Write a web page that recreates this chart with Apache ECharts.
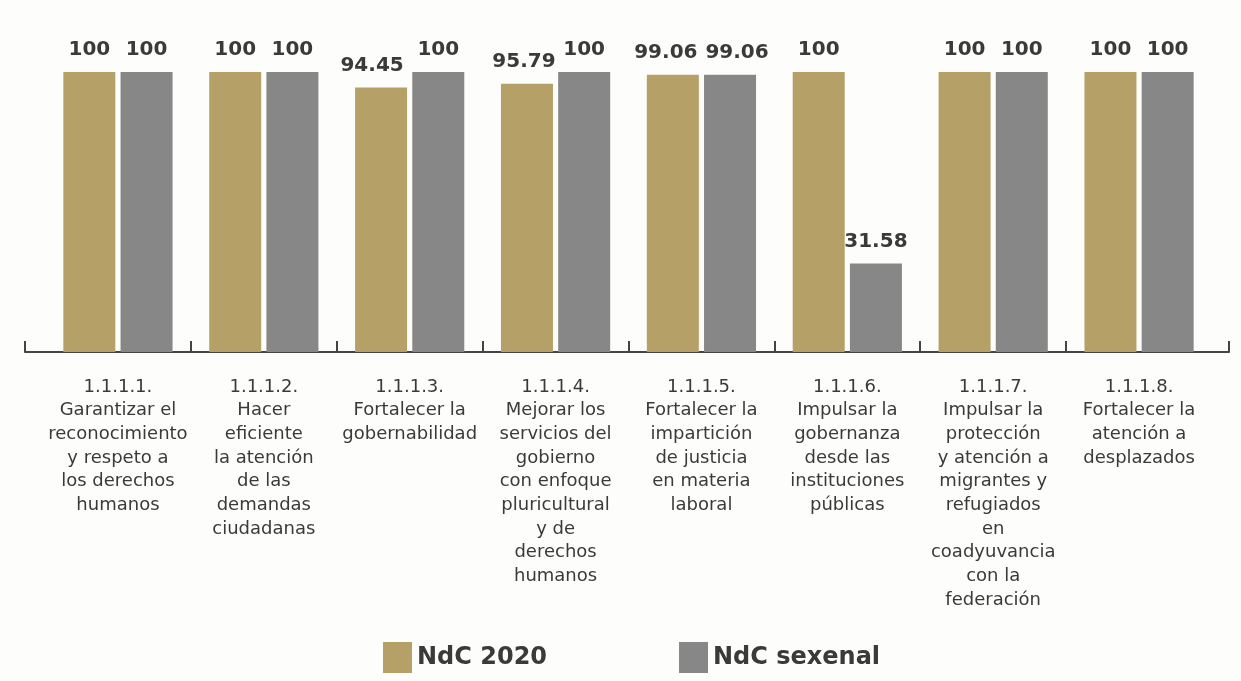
<!DOCTYPE html>
<html>
<head>
<meta charset="utf-8">
<script src="https://cdn.jsdelivr.net/npm/echarts@6/dist/echarts.min.js"></script>
<style>
  html, body { margin: 0; padding: 0; background: #fdfdfb; }
  #chart { width: 1241px; height: 681px; }
</style>
</head>
<body>
<div id="chart"></div>
<script>
const categories = [
  '1.1.1.1.\nGarantizar el\nreconocimiento\ny respeto a\nlos derechos\nhumanos',
  '1.1.1.2.\nHacer\neficiente\nla atención\nde las\ndemandas\nciudadanas',
  '1.1.1.3.\nFortalecer la\ngobernabilidad',
  '1.1.1.4.\nMejorar los\nservicios del\ngobierno\ncon enfoque\npluricultural\ny de\nderechos\nhumanos',
  '1.1.1.5.\nFortalecer la\nimpartición\nde justicia\nen materia\nlaboral',
  '1.1.1.6.\nImpulsar la\ngobernanza\ndesde las\ninstituciones\npúblicas',
  '1.1.1.7.\nImpulsar la\nprotección\ny atención a\nmigrantes y\nrefugiados\nen\ncoadyuvancia\ncon la\nfederación',
  '1.1.1.8.\nFortalecer la\natención a\ndesplazados'
]
const ndc2020 = [100, 100, 94.45, 95.79, 99.06, 100, 100, 100]
const ndcSexenal = [100, 100, 100, 100, 99.06, 31.58, 100, 100]

const gold = '#b5a067'
const gray = '#878787'
const textColor = '#3a3a3a'
const font = 'DejaVu Sans'

// desplazamiento horizontal de etiquetas que se enciman
const goldLabelShift = { 2: -9, 3: -3, 4: -7 }
const grayLabelShift = { 4: 7 }

// la línea del eje se extiende un poco más allá de la primera y última categoría
const band = 1167 / 8
const axisMin = -20 / band
const axisMax = 8 + 17 / band

const chart = echarts.init(document.getElementById('chart'))

const valueLabel = {
  show: true,
  position: 'top',
  distance: 12,
  fontFamily: font,
  fontWeight: 'bold',
  fontSize: 20,
  color: textColor
}

const withShift = (values, shifts) => values.map((v, i) => {
  if (shifts[i] === undefined) return v
  return { value: v, label: { offset: [shifts[i], 0] } }
})

chart.setOption({
  backgroundColor: '#fdfdfb',
  animation: false,
  legend: {
    top: 637,
    left: 378,
    itemWidth: 29,
    itemHeight: 31,
    itemGap: 132,
    icon: 'rect',
    textStyle: { fontFamily: font, fontWeight: 'bold', fontSize: 24, color: textColor },
    data: ['NdC 2020', 'NdC sexenal']
  },
  grid: [
    { left: 45, right: 29, top: 72, bottom: 329 },
    { left: 25, right: 12, top: 72, bottom: 329 }
  ],
  xAxis: [
    {
      type: 'category',
      gridIndex: 0,
      data: categories,
      axisLine: { show: false },
      axisTick: { show: false },
      axisLabel: {
        interval: 0,
        margin: 23,
        fontFamily: font,
        fontSize: 18,
        lineHeight: 23.7,
        color: textColor,
        align: 'center'
      }
    },
    {
      type: 'value',
      gridIndex: 1,
      min: axisMin,
      max: axisMax,
      splitLine: { show: false },
      axisLabel: { show: false },
      axisLine: { show: true, lineStyle: { color: '#444', width: 2 } },
      axisTick: {
        show: true,
        inside: true,
        length: 11,
        lineStyle: { color: '#444', width: 2 },
        customValues: [axisMin, 1, 2, 3, 4, 5, 6, 7, axisMax]
      }
    }
  ],
  yAxis: [
    { type: 'value', gridIndex: 0, min: 0, max: 100, show: false },
    { type: 'value', gridIndex: 1, min: 0, max: 100, show: false }
  ],
  series: [
    {
      name: 'NdC 2020',
      type: 'bar',
      xAxisIndex: 0,
      yAxisIndex: 0,
      data: withShift(ndc2020, goldLabelShift),
      barWidth: 52,
      barGap: '10%',
      itemStyle: { color: gold },
      label: valueLabel
    },
    {
      name: 'NdC sexenal',
      type: 'bar',
      xAxisIndex: 0,
      yAxisIndex: 0,
      data: withShift(ndcSexenal, grayLabelShift),
      barWidth: 52,
      barGap: '10%',
      itemStyle: { color: gray },
      label: valueLabel
    }
  ]
})
</script>
</body>
</html>
